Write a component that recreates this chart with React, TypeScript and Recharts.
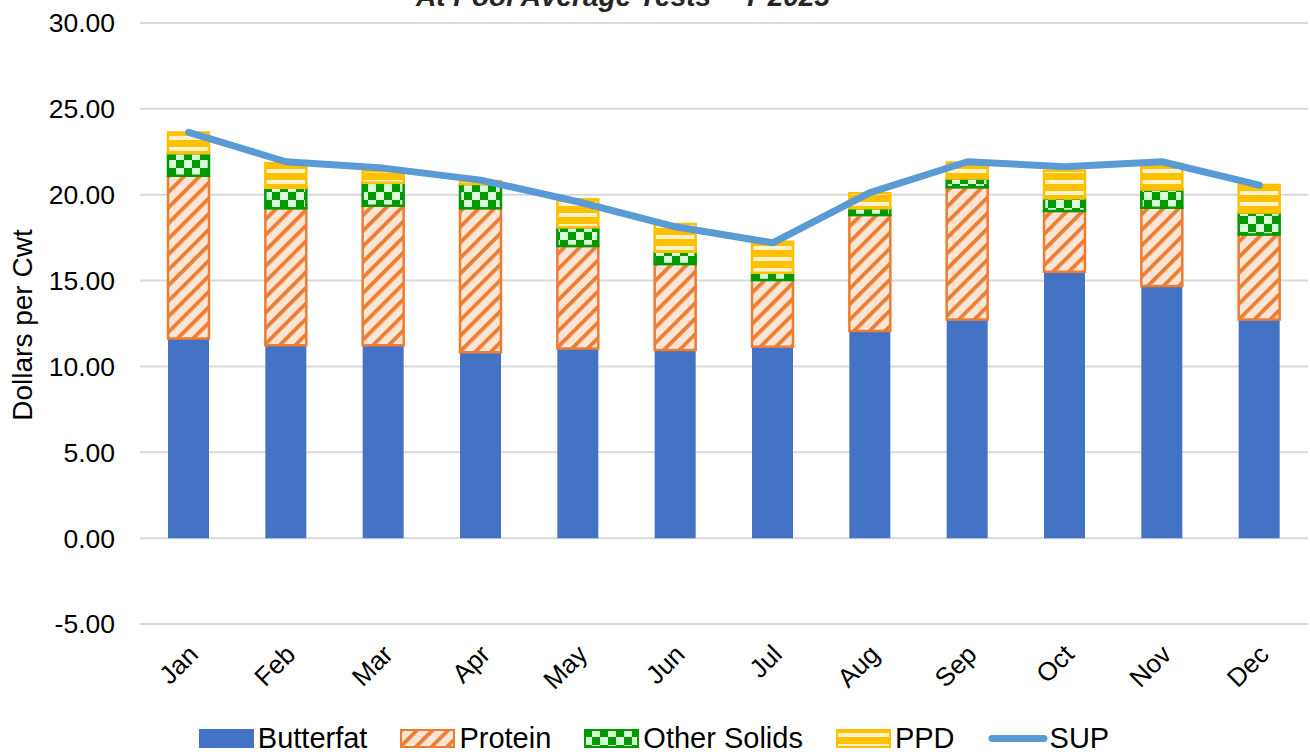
import { ComposedChart, Bar, Line, XAxis, YAxis, CartesianGrid, Legend, Label } from 'recharts'

const months = ['Jan', 'Feb', 'Mar', 'Apr', 'May', 'Jun', 'Jul', 'Aug', 'Sep', 'Oct', 'Nov', 'Dec']
const butterfat = [11.63, 11.24, 11.24, 10.83, 11.05, 10.95, 11.14, 12.06, 12.74, 15.51, 14.68, 12.74]
const protein = [9.47, 7.97, 8.12, 8.38, 5.96, 5.01, 3.89, 6.76, 7.69, 3.54, 4.56, 4.95]
const otherSolids = [1.31, 1.2, 1.34, 1.41, 1.09, 0.72, 0.43, 0.39, 0.52, 0.74, 1.07, 1.28]
const ppd = [1.22, 1.42, 0.66, 0.18, 1.63, 1.61, 1.8, 0.87, 0.93, 1.61, 1.48, 1.59]
const sup = [23.63, 21.92, 21.55, 20.85, 19.59, 18.13, 17.2, 20.12, 21.92, 21.63, 21.92, 20.56]
const yTicks = [-5, 0, 5, 10, 15, 20, 25, 30]

const data = months.map((m, i) => ({
  month: m,
  butterfat: butterfat[i],
  protein: protein[i],
  otherSolids: otherSolids[i],
  ppd: ppd[i],
  sup: sup[i],
}))

const FONT = '"Liberation Sans", Arial, sans-serif'

const legendItems = [
  { label: 'Butterfat', fill: '#4472C4', stroke: '#4472C4' },
  { label: 'Protein', fill: 'url(#protein)', stroke: '#ED7D31' },
  { label: 'Other Solids', fill: 'url(#solids)', stroke: '#009900' },
  { label: 'PPD', fill: 'url(#ppd)', stroke: '#FFC000' },
]

// fixed 38px tall so the plot area keeps its place
function ChartLegend() {
  return (
    <div style={{ display: 'flex', justifyContent: 'center', alignItems: 'center', height: 34, paddingTop: 4, fontFamily: FONT, fontSize: 29, color: '#000' }}>
      {legendItems.map((it) => (
        <div key={it.label} style={{ display: 'flex', alignItems: 'center', marginRight: 33 }}>
          <svg width={55} height={19} style={{ marginRight: 4 }}>
            <rect x={1} y={1} width={53} height={17} fill={it.fill} stroke={it.stroke} strokeWidth={2} />
          </svg>
          <span>{it.label}</span>
        </div>
      ))}
      <div style={{ display: 'flex', alignItems: 'center' }}>
        <svg width={60} height={19} style={{ marginRight: 2 }}>
          <line x1={4} y1={9.5} x2={56} y2={9.5} stroke="#5B9BD5" strokeWidth={7} strokeLinecap="round" />
        </svg>
        <span>SUP</span>
      </div>
    </div>
  )
}

function MonthTick(props: any) {
  const { x, y, payload } = props
  return (
    <text
      transform={`translate(${x + 11},${y + 24}) rotate(-45)`}
      textAnchor="end"
      fontFamily={FONT}
      fontSize={26}
      fill="#000"
    >
      {payload.value}
    </text>
  )
}

export default function App() {
  return (
    <div style={{ position: 'absolute', left: 0, top: 0, width: 1310, height: 755, background: '#fff', overflow: 'hidden' }}>
      <ComposedChart width={1310} height={755} data={data} margin={{ top: 23, right: 2, bottom: 0, left: 0 }} barCategoryGap={0}>
        <defs>
          <pattern id="protein" patternUnits="userSpaceOnUse" width={11} height={11} patternTransform="rotate(45)">
            <rect width={11} height={11} fill="#FBE5D6" />
            <rect width={3.8} height={11} fill="#ED7D31" />
          </pattern>
          <pattern id="solids" patternUnits="userSpaceOnUse" width={16} height={16}>
            <rect width={16} height={16} fill="#D8FBD8" />
            <rect width={8} height={8} fill="#009900" />
            <rect x={8} y={8} width={8} height={8} fill="#009900" />
          </pattern>
          <pattern id="ppd" patternUnits="userSpaceOnUse" width={11} height={11}>
            <rect width={11} height={11} fill="#FFC000" />
            <rect y={4} width={11} height={4} fill="#FFF2CC" />
          </pattern>
        </defs>
        <text x={623} y={6} textAnchor="middle" fontFamily={FONT} fontSize={28} fontWeight="bold" fontStyle="italic" fill="#262626">
          At Pool Average Tests – Y 2023
        </text>
        <CartesianGrid vertical={false} stroke="#D9D9D9" strokeWidth={2} />
        <XAxis dataKey="month" axisLine={false} tickLine={false} height={93} tick={<MonthTick />} interval={0} />
        <YAxis
          domain={[-5, 30]}
          ticks={yTicks}
          allowDataOverflow
          width={140}
          axisLine={false}
          tickLine={false}
          tickSize={0}
          tickMargin={25}
          tickFormatter={(v: number) => v.toFixed(2)}
          tick={{ fontFamily: FONT, fontSize: 26.5, fill: '#000' }}
          label={
            <Label
              content={() => (
                <text transform="translate(32,325) rotate(-90)" textAnchor="middle" fontFamily={FONT} fontSize={28} fill="#000">
                  Dollars per Cwt
                </text>
              )}
            />
          }
        />
        <Legend verticalAlign="bottom" content={() => <ChartLegend />} />
        <Bar dataKey="butterfat" stackId="a" barSize={41} fill="#4472C4" isAnimationActive={false} />
        <Bar dataKey="protein" stackId="a" barSize={41} fill="url(#protein)" stroke="#ED7D31" strokeWidth={2.5} isAnimationActive={false} />
        <Bar dataKey="otherSolids" stackId="a" barSize={41} fill="url(#solids)" stroke="#009900" strokeWidth={2.5} isAnimationActive={false} />
        <Bar dataKey="ppd" stackId="a" barSize={41} fill="url(#ppd)" stroke="#FFC000" strokeWidth={2.5} isAnimationActive={false} />
        <Line dataKey="sup" stroke="#5B9BD5" strokeWidth={7} dot={false} activeDot={false} strokeLinecap="round" strokeLinejoin="round" isAnimationActive={false} />
      </ComposedChart>
    </div>
  )
}
